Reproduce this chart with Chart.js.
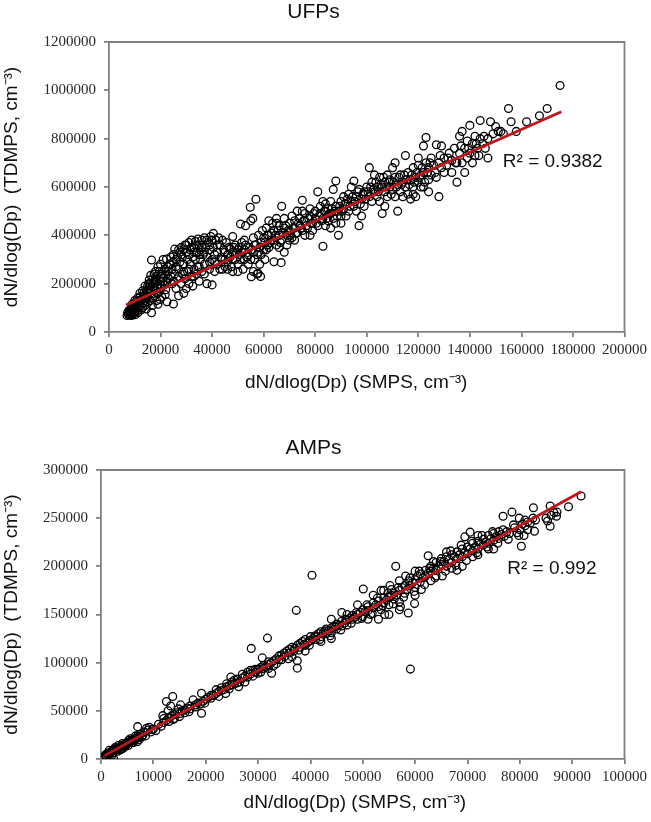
<!DOCTYPE html>
<html>
<head>
<meta charset="utf-8">
<script src="https://cdn.jsdelivr.net/npm/chart.js@4.4.1/dist/chart.umd.min.js"></script>
<style>
  body { margin: 0; background: #fff; }
  canvas { display: block; }
</style>
</head>
<body>
<canvas id="chart-ufp" width="651" height="411"></canvas>
<canvas id="chart-amp" width="651" height="411"></canvas>
<script>
// UFPs: [SMPS, TDMPS] pairs
const ufpPairs = [
  // dense start, 7k-15k
  [7000,68000],[7500,72000],[8000,70000],[8500,75000],[9000,72000],[9500,78000],[10000,80000],[7200,80000],[8000,85000],[9000,90000],
  [10000,95000],[11000,88000],[11500,100000],[12000,110000],[8500,95000],[9500,105000],[10500,110000],[11000,120000],[12000,128000],[10000,130000],
  [11000,140000],[12000,145000],[9000,115000],[7800,90000],[8800,68000],[10200,72000],[11200,80000],[12500,92000],[13000,100000],[13000,118000],
  [12800,135000],[13500,150000],[14000,130000],[14000,110000],[14500,95000],[15000,120000],[15000,145000],[10500,125000],[9800,100000],[8200,78000],
  // 13k-23k
  [13500,160000],[14500,170000],[15000,165000],[15500,180000],[16000,160000],[16000,200000],[16500,80000],[16500,298000],[17000,185000],[17000,220000],
  [17500,150000],[17500,240000],[18000,175000],[18000,205000],[18500,230000],[18500,130000],[19000,115000],[19000,195000],[19500,250000],[19500,165000],
  [20000,210000],[20000,180000],[20500,145000],[20500,240000],[21000,300000],[21000,225000],[21500,195000],[21500,260000],[22000,175000],[22000,235000],
  [22300,302000],[22500,125000],[22500,210000],[16000,130000],[17000,140000],[15000,190000],[18000,250000],[19000,270000],[20000,280000],[16800,110000],
  [14200,140000],[19800,135000],[21800,155000],[17800,215000],[16200,235000],[15600,215000],[14800,150000],[20300,190000],[18700,160000],[22800,270000],
  [13000,170000],[14000,190000],[15500,200000],[17000,200000],[18500,190000],[20000,230000],[21000,210000],[22000,250000],[16000,175000],[12000,160000],
  // 23k-42k
  [23000,250000],[23500,280000],[24000,230000],[24000,310000],[24500,200000],[24500,260000],[25000,116000],[25000,290000],[25500,343000],[25500,240000],
  [26000,180000],[26000,270000],[26500,310000],[26500,220000],[27000,150000],[27000,260000],[27500,330000],[27500,290000],[28000,200000],[28000,350000],
  [28500,240000],[28500,310000],[29000,160000],[29000,280000],[29500,360000],[29500,220000],[30000,180000],[30000,330000],[30500,300000],[30500,250000],
  [31000,370000],[31000,200000],[31500,340000],[31500,280000],[32000,381000],[32000,230000],[32500,310000],[32500,190000],[33000,350000],[33000,260000],
  [33500,375000],[33500,300000],[34000,240000],[34000,330000],[34500,385000],[34500,270000],[35000,360000],[35000,210000],[35500,300000],[35500,340000],
  [36000,380000],[36000,250000],[36500,320000],[37000,390000],[37000,280000],[37500,350000],[38000,200000],[38000,310000],[38500,370000],[39000,260000],
  [39000,340000],[39500,395000],[40000,195000],[40000,300000],[40500,408000],[40500,350000],[41000,250000],[41500,380000],[42000,280000],[42000,330000],
  [24000,280000],[25000,320000],[26000,300000],[27000,340000],[28000,320000],[29000,340000],[30000,360000],[31000,320000],[32000,350000],[33000,330000],
  [34000,360000],[35000,320000],[36000,350000],[37000,330000],[38000,380000],[39000,360000],[40000,380000],[41000,320000],[42000,360000],[23000,220000],
  [25000,210000],[27000,230000],[29000,250000],[31000,260000],[33000,230000],[35000,270000],[37000,240000],[39000,290000],[41000,290000],
  // 42k-62k
  [42500,390000],[43000,260000],[43000,360000],[44000,300000],[44000,380000],[45000,270000],[45000,330000],[45500,370000],[46000,290000],[46500,350000],
  [47000,310000],[47500,270000],[48000,395000],[48000,330000],[49000,300000],[49000,360000],[50000,280000],[50000,340000],[50500,320000],[51000,447000],
  [51000,300000],[51500,370000],[52000,260000],[52000,330000],[52500,300000],[53000,440000],[53000,360000],[54000,320000],[54000,280000],[54800,516000],
  [55000,460000],[55200,229000],[55500,340000],[56000,250000],[56000,390000],[56500,300000],[57000,549000],[57000,360000],[57500,240000],[57800,243000],
  [58000,330000],[58000,400000],[58500,280000],[59000,370000],[59500,420000],[60000,340000],[60000,390000],[60500,300000],[61000,430000],[61500,360000],
  [62000,400000],[62000,460000],[58800,230000],[55800,470000],[52500,380000],
  [43500,310000],[44500,340000],[45000,300000],[46000,320000],[47000,345000],[48000,300000],[48500,350000],[49500,330000],[50500,350000],[51500,330000],
  [52500,340000],[53500,310000],[54500,350000],[55000,300000],[56000,330000],[56500,360000],[57500,320000],[58500,350000],[59000,320000],[60500,370000],
  [61000,340000],[61500,400000],[62000,350000],[44000,260000],[46000,260000],[48000,250000],[50000,250000],
  // 62k-100k
  [63000,380000],[63500,450000],[64000,291000],[64000,420000],[65000,360000],[65000,470000],[66000,400000],[66000,440000],[66800,287000],[67000,520000],
  [67000,380000],[68000,430000],[68000,470000],[69000,400000],[69000,360000],[70000,450000],[70000,420000],[71000,480000],[71000,390000],[72000,430000],
  [72000,460000],[73000,500000],[73000,410000],[74000,440000],[74000,470000],[75000,545000],[75000,420000],[76000,460000],[76000,490000],[77000,430000],
  [78000,480000],[78000,510000],[79000,450000],[80000,470000],[80000,500000],[81000,580000],[81000,440000],[82000,490000],[82000,520000],[83000,355000],
  [83000,470000],[84000,500000],[84000,530000],[85000,460000],[85000,510000],[86000,490000],[86000,540000],[87000,590000],[87000,470000],[88000,625000],
  [88000,520000],[89000,400000],[89000,500000],[90000,540000],[90000,480000],[91000,560000],[91000,510000],[92000,530000],[93000,500000],[93000,570000],
  [94000,540000],[95000,625000],[95000,520000],[96000,560000],[97000,440000],[97000,590000],[98000,550000],[99000,580000],[99000,520000],[100000,600000],
  [62500,370000],[63000,410000],[64000,380000],[64500,400000],[65500,420000],[66500,370000],[67500,410000],[68500,440000],[69500,420000],[70500,400000],
  [71500,430000],[72500,410000],[73500,450000],[74500,430000],[75500,460000],[76500,440000],[77500,470000],[78500,450000],[79500,490000],[80500,450000],
  [81500,480000],[82500,460000],[83500,500000],[84500,470000],[85500,490000],[86500,510000],[87500,500000],[88500,480000],[89500,520000],[90500,500000],
  [91500,530000],[92500,550000],[93500,520000],[94500,560000],[95500,540000],[96500,580000],[97500,530000],[98500,570000],[99500,550000],[76000,400000],
  [79000,420000],[84000,440000],[88000,450000],[92000,480000],[96000,500000],[70000,380000],[66000,350000],
  [65000,450000],[68000,330000],[72000,380000],[75000,500000],[78000,400000],[83000,540000],[86000,430000],[90000,450000],[94000,600000],[98000,480000],
  // 100k-126k
  [101000,680000],[101000,560000],[102000,540000],[102000,620000],[103000,580000],[104000,600000],[104000,560000],[105000,640000],[105000,540000],[106000,490000],
  [106000,600000],[107000,620000],[107000,580000],[108000,560000],[108000,650000],[109000,600000],[109000,630000],[110000,680000],[110000,590000],[111000,560000],
  [111000,640000],[112000,500000],[112000,610000],[113000,580000],[113000,650000],[114000,620000],[115000,730000],[115000,600000],[116000,660000],[116000,570000],
  [117000,630000],[118000,600000],[118000,680000],[119000,640000],[119000,560000],[120000,620000],[120000,690000],[121000,650000],[121000,600000],[122000,770000],
  [122000,660000],[123000,805000],[123000,700000],[124000,630000],[124000,680000],[125000,650000],[125000,720000],
  [100500,580000],[101500,600000],[102500,590000],[103500,620000],[104500,580000],[105500,610000],[106500,640000],[107500,600000],[108500,620000],[109500,570000],
  [110500,620000],[111500,600000],[112500,640000],[113500,610000],[114500,650000],[115500,630000],[116500,610000],[117500,650000],[118500,620000],[119500,660000],
  [120500,640000],[121500,680000],[122500,620000],[123500,660000],[124500,700000],[114000,560000],[118000,570000],[122000,600000],
  [103000,650000],[107000,520000],[111000,700000],[117000,550000],[120000,720000],[124000,580000],
  // 126k-175k
  [126000,690000],[127000,775000],[127000,640000],[128000,560000],[128000,700000],[129000,770000],[129000,680000],[130000,660000],[130000,720000],[131000,690000],
  [132000,740000],[133000,660000],[133000,710000],[134000,760000],[135000,620000],[135000,700000],[136000,810000],[136000,740000],[137000,830000],[137000,700000],
  [138000,660000],[138000,760000],[139000,720000],[140000,855000],[140000,740000],[141000,700000],[141000,780000],[142000,730000],[142000,810000],[143000,760000],
  [144000,875000],[144000,800000],[145000,780000],[146000,760000],[147000,720000],[147000,800000],[148000,870000],[149000,820000],[150000,850000],[151000,830000],
  [152000,830000],[153000,820000],[155000,925000],[156000,870000],[158000,830000],[162000,870000],[167000,895000],[170000,925000],[175000,1020000],
  [126500,660000],[128500,730000],[131500,720000],[134500,700000],[136500,770000],[139500,760000],[142500,780000],[145500,810000],[143500,730000],[139000,790000]
];

// AMPs: [SMPS, TDMPS] pairs
const ampPairs = [
  [500,2000],[800,4000],[1000,3000],[1200,6000],[1500,5000],[1800,7000],[2000,8000],[2200,6000],[2400,500],[2500,10000],
  [2800,9000],[3000,11000],[3200,8000],[3500,12000],[3800,13000],[4000,14000],[4200,11000],[4500,15000],[4800,16000],[5000,17000],
  [5200,14000],[5500,18000],[5800,19000],[6000,20000],[6200,17000],[6500,21000],[6800,22000],[7000,33600],[7000,24000],[7300,20000],
  [7600,26000],[8000,25000],[8300,28000],[8700,31900],[8500,24000],[9000,30000],[9500,28000],[10000,31000],[10500,29500],[3300,14000],
  [2700,12000],[1600,9000],[4600,13000],[5600,21000],[6600,24000],[7800,23000],[9200,33000],[3900,10000],[2100,4000],[1100,1500],
  [6900,18000],[5300,19500],[4100,16000],[3600,9500],
  [1300,4500],[1700,5500],[2300,8500],[2900,10000],[3400,11000],[4400,13500],[4900,15000],[5900,17000],[6400,19500],[7200,22000],
  [7900,24500],[9800,30500],
  [11000,36000],[11500,34000],[12000,38000],[12000,42000],[12500,59700],[12500,40000],[13000,43000],[13000,39000],[13500,45000],[13700,64900],
  [13300,55000],[14000,46000],[14000,42000],[14500,48000],[15000,47000],[15200,56200],[15000,44000],[15500,50000],[16000,51000],[16000,48000],
  [16500,53000],[17000,52000],[17000,55000],[17600,61400],[18000,56000],[18000,54000],[18500,58000],[19000,57000],[19200,68300],[19200,47500],
  [19500,60000],[20000,62000],[12800,50000],[14800,52000],[16800,49000],[11800,45000],[13800,41000],[19800,58000],
  [20500,64000],[21000,63000],[21500,66000],[22000,68000],[22000,72000],[22500,70000],[23000,71000],[23000,74000],[23500,72000],[24000,75000],
  [24000,78000],[24500,76000],[25000,77000],[25000,80000],[25500,82000],[26000,79000],[26000,83000],[26500,80000],[27000,84000],[27500,86000],
  [27000,88000],[28000,85000],[28000,90000],[28700,114800],[28500,88000],[29000,92000],[29000,86000],[29500,90000],[30000,93000],[30000,89000],
  [30500,95000],[30800,105000],[31000,94000],[31000,97000],[31500,96000],[31800,125500],[32000,98000],[32000,101000],[32600,89000],[32500,100000],
  [33000,102000],[33000,97000],[33500,104000],[34000,103000],[34000,107000],[34500,108000],[35000,106000],[35000,110000],[35500,112000],[26300,75000],
  [24800,85000],[23800,68000],
  [21000,66000],[22500,65000],[24500,73000],[25500,78000],[27500,80000],[28500,92000],[29500,93000],[30500,90000],[32000,94000],[33500,99000],
  [34500,103000],
  [36000,110000],[36000,114000],[36500,116000],[37000,115000],[37300,154300],[37500,94300],[37500,102000],[37500,118000],[38000,116000],[38000,120000],
  [38500,122000],[39000,118000],[39000,124000],[39500,121000],[40000,123000],[40000,127000],[40300,190800],[40500,125000],[41000,128000],[41000,124000],
  [41500,130000],[42000,127000],[42000,132000],[42500,131000],[43000,130000],[43000,135000],[43500,133000],[44000,136000],[44000,131000],[44500,138000],
  [45000,135000],[45000,140000],[45500,139000],[46000,138000],[46000,143000],[46500,141000],[47000,144000],[47000,139000],[47500,146000],[48000,145000],
  [48000,149000],[48500,147000],[49000,150000],[49000,145000],[49500,152000],[50000,148000],[50000,155000],[50100,176500],[49000,160000],[46000,152000],
  [44000,145000],[42000,122000],[39000,112000],[36500,106000],
  [35800,104000],[36800,112000],[37800,113000],[38800,119000],[39800,118000],[40800,127000],[41800,124000],[42800,133000],[43800,128000],[44800,137000],
  [45800,134000],[46800,145000],[47800,141000],[48800,152000],[49800,146000],[44000,125000],[47000,150000],
  [50500,153000],[51000,154000],[51000,158000],[51500,150000],[52000,157000],[52000,162000],[52500,160000],[53000,158000],[53000,164000],[53500,155000],
  [54000,162000],[54000,167000],[54500,165000],[55000,160000],[55000,168000],[55500,170000],[55500,176000],[56000,166000],[56000,172000],[56300,200000],
  [56500,170000],[57000,175000],[57000,163000],[57500,178000],[58000,172000],[58000,180000],[58500,176000],[58700,151600],[59000,180000],[59000,188000],
  [59100,93300],[59500,183000],[59900,161300],[60000,178000],[60000,186000],[60500,190000],[61000,184000],[61000,192000],[61500,188000],[62000,190000],
  [62000,196000],[53000,145000],[55000,150000],[57000,185000],[60000,170000],[52000,170000],
  [50800,160000],[51800,151000],[52800,167000],[53800,159000],[54800,172000],[55800,161000],[56800,178000],[57800,168000],[58800,185000],[59800,174000],
  [60800,195000],[61800,181000],[53500,175000],[55200,180000],[57200,158000],[54200,150000],[61200,176000],[58200,190000],
  [51000,145000],[54000,175000],[57000,155000],[60000,195000],
  [62500,211000],[62500,193000],[63000,195000],[63000,200000],[63500,198000],[64000,197000],[64000,204000],[64500,200000],[65000,202000],[65000,208000],
  [65500,205000],[66000,200000],[66000,210000],[66500,207000],[67000,204000],[67000,212000],[67500,210000],[68000,208000],[68000,215000],[68500,212000],
  [69000,210000],[69000,218000],[69500,230600],[69500,214000],[70000,213000],[70000,220000],[70500,235500],[70500,218000],[71000,216000],[71000,224000],
  [71500,220000],[72000,218000],[72000,226000],[72500,223000],[73000,222000],[73000,228000],[73500,225000],[74000,224000],[74000,232000],[74500,229000],
  [75000,227000],[75000,234000],[75500,231000],[76000,229000],[76000,236000],[76500,233000],[76800,252000],[77000,231000],[77500,236000],[78000,234000],
  [78500,256300],[64000,190000],[67000,198000],[71000,210000],[74000,218000],
  [62800,198000],[63800,188000],[64800,205000],[65800,195000],[66800,216000],[67800,201000],[68800,222000],[69800,206000],[70800,226000],[71800,214000],
  [72800,232000],[73800,220000],[74800,236000],[75800,224000],[76800,238000],[77800,228000],[78800,243000],[79800,232000],[65200,190000],[63500,205000],
  [68000,196000],[72000,212000],[63000,185000],[66000,215000],[69000,200000],[72000,232000],[75000,218000],
  [79000,240000],[79500,234800],[79900,250000],[80000,238000],[80300,220900],[80500,244000],[81000,242000],[81000,248000],[81500,246000],[82000,245000],
  [82500,250000],[82600,260800],[82800,236500],[83000,248000],[85000,250000],[85300,247000],[85800,262600],[85800,241700],[86000,253000],[86500,256000],
  [87100,256300],[87000,252000],[89300,261900],[91700,273000],[81500,238000],[80800,232000]
];

// fitted trend lines (end points) and R² labels
const ufpFit = [[6600, 111700], [175500, 911600]];
const ampFit = [[700, 3500], [91700, 277500]];
const ufpR2 = 'R² = 0.9382', ufpR2At = [152800, 704600];
const ampR2 = 'R² = 0.992', ampR2At = [77600, 197200];

// axis ticks
const ufpXTicks = [0, 20000, 40000, 60000, 80000, 100000, 120000, 140000, 160000, 180000, 200000];
const ufpYTicks = [0, 200000, 400000, 600000, 800000, 1000000, 1200000];
const ampXTicks = [0, 10000, 20000, 30000, 40000, 50000, 60000, 70000, 80000, 90000, 100000];
const ampYTicks = [0, 50000, 100000, 150000, 200000, 250000, 300000];

const SANS = "'Liberation Sans', Arial, sans-serif";
const SERIF = "'Liberation Serif', 'Times New Roman', serif";
const AXIS_GREY = '#808080';

// top + right edges of the plot box
const boxFrame = {
  id: 'boxFrame',
  afterDraw(chart) {
    const { ctx, chartArea: a } = chart;
    ctx.save();
    ctx.strokeStyle = AXIS_GREY;
    ctx.lineWidth = 1.8;
    ctx.beginPath();
    ctx.moveTo(a.left, a.top);
    ctx.lineTo(a.right, a.top);
    ctx.lineTo(a.right, a.bottom);
    ctx.stroke();
    ctx.restore();
  }
};

const r2Label = {
  id: 'r2Label',
  afterDatasetsDraw(chart, args, opts) {
    const { ctx, scales: { x, y } } = chart;
    ctx.save();
    ctx.font = '19px ' + SANS;
    ctx.fillStyle = '#111';
    ctx.textBaseline = 'middle';
    ctx.fillText(opts.text, x.getPixelForValue(opts.at[0]), y.getPixelForValue(opts.at[1]));
    ctx.restore();
  }
};

function axis(ticks, size, title, titlePad, horizontal) {
  return {
    type: 'linear',
    min: ticks[0],
    max: ticks[ticks.length - 1],
    afterBuildTicks: s => { s.ticks = ticks.map(v => ({ value: v })); },
    afterFit: s => { if (horizontal) s.height = size; else s.width = size; },
    ticks: {
      font: { family: SERIF, size: 15 },
      color: '#2a2a2a',
      padding: horizontal ? 4 : 8,
      autoSkip: false,
      maxRotation: 0,
      callback: v => String(v)
    },
    grid: { display: true, drawOnChartArea: false, drawTicks: true, tickLength: 5, color: AXIS_GREY, lineWidth: 1.8 },
    border: { display: true, color: AXIS_GREY, width: 1.8 },
    title: { display: true, text: title, font: { family: SANS, size: 19 }, color: '#111', padding: titlePad }
  };
}

function makeChart(id, c) {
  return new Chart(document.getElementById(id).getContext('2d'), {
    type: 'scatter',
    data: {
      datasets: [
        {
          type: 'line',
          data: c.fit.map(p => ({ x: p[0], y: p[1] })),
          borderColor: '#c0161b',
          borderWidth: 2.8,
          pointRadius: 0,
          fill: false
        },
        {
          data: c.pairs.map(p => ({ x: p[0], y: p[1] })),
          pointStyle: 'circle',
          pointRadius: 3.9,
          borderWidth: 1.3,
          borderColor: '#000',
          backgroundColor: 'rgba(0,0,0,0)'
        }
      ]
    },
    options: {
      responsive: false,
      animation: false,
      devicePixelRatio: 1,
      layout: { padding: { left: 0, right: 24, top: 0, bottom: 0 } },
      scales: {
        x: axis(c.xTicks, c.xHeight, c.xTitle, { top: 0, bottom: c.xTitleBottom }, true),
        y: axis(c.yTicks, c.yWidth, 'dN/dlog(Dp)  (TDMPS, cm⁻³)', { top: 0.6, bottom: 0 }, false)
      },
      plugins: {
        legend: { display: false },
        tooltip: { enabled: false },
        title: {
          display: true,
          text: c.title,
          font: { family: SANS, size: 21, weight: 'normal' },
          color: '#111',
          padding: c.titlePad
        },
        r2Label: { text: c.r2, at: c.r2At }
      }
    },
    plugins: [boxFrame, r2Label]
  });
}

makeChart('chart-ufp', {
  title: 'UFPs', titlePad: { top: 0, bottom: 16.8 },
  pairs: ufpPairs, fit: ufpFit, r2: ufpR2, r2At: ufpR2At,
  xTicks: ufpXTicks, yTicks: ufpYTicks,
  yWidth: 109, xHeight: 79, xTitleBottom: 16.6,
  xTitle: 'dN/dlog(Dp) (SMPS, cm⁻³)    '
});

makeChart('chart-amp', {
  title: 'AMPs', titlePad: { top: 24.4, bottom: 9.4 },
  pairs: ampPairs, fit: ampFit, r2: ampR2, r2At: ampR2At,
  xTicks: ampXTicks, yTicks: ampYTicks,
  yWidth: 101, xHeight: 63, xTitleBottom: 7.6,
  xTitle: 'dN/dlog(Dp) (SMPS, cm⁻³)   '
});
</script>
</body>
</html>
